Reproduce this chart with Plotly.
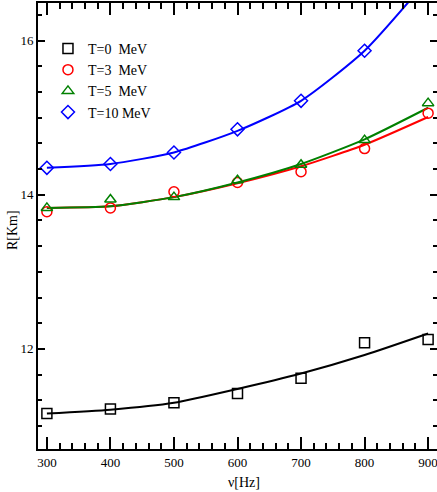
import plotly.graph_objects as go

freq = [300, 400, 500, 600, 700, 800, 900]

# markers
r_t0_pts = [11.16, 11.22, 11.30, 11.42, 11.62, 12.08, 12.12]
r_t3_pts = [13.78, 13.83, 14.04, 14.16, 14.30, 14.60, 15.06]
r_t5_pts = [13.83, 13.94, 13.97, 14.19, 14.39, 14.71, 15.19]
r_t10_pts = [14.35, 14.40, 14.55, 14.85, 15.22, 15.87, 16.85]

# fitted curves
r_t0_line = [11.16, 11.21, 11.30, 11.48, 11.68, 11.92, 12.20]
r_t3_line = [13.83, 13.85, 13.97, 14.15, 14.37, 14.65, 15.01]
r_t5_line = [13.83, 13.85, 13.97, 14.16, 14.40, 14.72, 15.13]
r_t10_line = [14.35, 14.40, 14.55, 14.83, 15.22, 15.87, 16.80]

labels = ["T=0  MeV", "T=3  MeV", "T=5  MeV", "T=10 MeV"]
colors = ["black", "red", "green", "blue"]
symbols = ["square-open", "circle-open", "triangle-up-open", "diamond-open"]

FONT = "Liberation Serif"

fig = go.Figure()
lines = [r_t0_line, r_t3_line, r_t5_line, r_t10_line]
pts = [r_t0_pts, r_t3_pts, r_t5_pts, r_t10_pts]
for ln, c in zip(lines, colors):
    fig.add_trace(go.Scatter(x=freq, y=ln, mode="lines",
                             line=dict(color=c, width=2, shape="spline", smoothing=0.6),
                             showlegend=False, hoverinfo="skip"))
for p, c, s, lab in zip(pts, colors, symbols, labels):
    fig.add_trace(go.Scatter(x=freq, y=p, mode="markers", name=lab,
                             marker=dict(symbol=s, size=10, color=c, line=dict(color=c, width=1.5))))

fig.update_layout(
    width=437, height=492,
    margin=dict(l=38, r=0, t=3, b=43),
    plot_bgcolor="white", paper_bgcolor="white",
    font=dict(family=FONT, size=14, color="black"),
    legend=dict(x=0.025, y=0.933, xanchor="left", yanchor="top", bgcolor="rgba(0,0,0,0)",
                font=dict(family=FONT, size=14), itemwidth=30, tracegroupgap=0),
    xaxis=dict(range=[286, 914], showgrid=False, zeroline=False, automargin=False,
               showline=True, linecolor="black", linewidth=2, mirror="ticks",
               ticks="inside", ticklen=12, tickwidth=1.5, tickcolor="black",
               tick0=300, dtick=100, ticklabeloverflow="allow",
               minor=dict(ticks="inside", ticklen=6, tickwidth=1.5, tickcolor="black", tick0=300, dtick=20),
               tickfont=dict(family=FONT, size=13)),
    yaxis=dict(range=[10.70, 16.49], showgrid=False, zeroline=False, automargin=False,
               showline=True, linecolor="black", linewidth=2, mirror="ticks",
               ticks="inside", ticklen=7, tickwidth=1.5, tickcolor="black",
               tick0=12, dtick=2, ticklabeloverflow="allow",
               minor=dict(ticks="inside", ticklen=4, tickwidth=1.5, tickcolor="black", tick0=12, dtick=1/3),
               tickfont=dict(family=FONT, size=13)),
    annotations=[
        dict(text="ν[Hz]", xref="paper", yref="paper", x=(244 - 38) / 399, y=-(482 - 449) / 446,
             xanchor="center", yanchor="middle", showarrow=False, font=dict(family=FONT, size=14)),
        dict(text="R[Km]", xref="paper", yref="paper", x=-(38 - 12) / 399, y=(449 - 230) / 446,
             xanchor="center", yanchor="middle", showarrow=False, textangle=-90,
             font=dict(family=FONT, size=14)),
    ],
)

fig.write_html("out.html", config={"displayModeBar": False},
               post_script="document.body.style.margin='0';")
